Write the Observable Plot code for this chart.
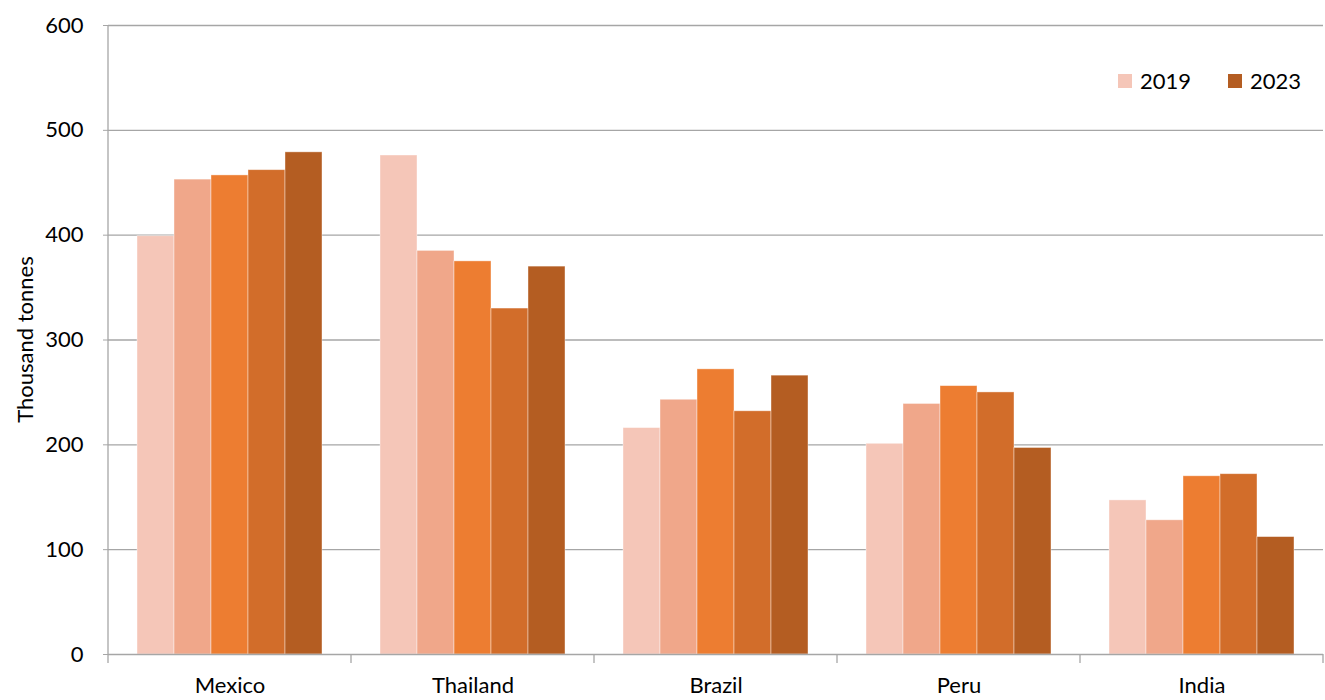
<!DOCTYPE html>
<html>
<head>
<meta charset="utf-8">
<script src="https://cdn.jsdelivr.net/npm/d3@7"></script>
<script src="https://cdn.jsdelivr.net/npm/@observablehq/plot@0.6"></script>
<style>
  html, body { margin: 0; padding: 0; background: #fff; }
  #wrap { position: relative; width: 1325px; height: 700px; font-family: Lato, "Open Sans", sans-serif; }
  .leg { position: absolute; display: flex; align-items: center; font-size: 22px; color: #000; }
  .sw { width: 14px; height: 14px; margin-right: 8px; }
</style>
</head>
<body>
<div id="wrap"></div>
<script>
const countries = ["Mexico", "Thailand", "Brazil", "Peru", "India"];
const years = ["2019", "2020", "2021", "2022", "2023"];
const v2019 = [399, 476, 216, 201, 147];
const v2020 = [453, 385, 243, 239, 128];
const v2021 = [457, 375, 272, 256, 170];
const v2022 = [462, 330, 232, 250, 172];
const v2023 = [479, 370, 266, 197, 112];
const colors = ["#F5C6B8", "#F0A78A", "#ED7D31", "#D26D2A", "#B45D22"];
const yTicks = [0, 100, 200, 300, 400, 500, 600];
const legendYears = ["2019", "2023"];
const yTitle = "Thousand tonnes";

const series = [v2019, v2020, v2021, v2022, v2023];
const data = [];
countries.forEach((c, i) => {
  years.forEach((y, j) => data.push({country: c, year: y, value: series[j][i]}));
});

const gridColor = "#A6A6A6";

const chart = Plot.plot({
  width: 1325,
  height: 700,
  marginLeft: 108,
  marginRight: 2,
  marginTop: 25,
  marginBottom: 46,
  style: {fontFamily: "Lato, 'Open Sans', sans-serif", background: "#fff", color: "#000"},
  fx: {domain: countries, padding: 0, label: null},
  x: {domain: years, paddingInner: 0, paddingOuter: 0.75, axis: null},
  y: {domain: [0, 600], label: null},
  color: {domain: years, range: colors},
  marks: [
    Plot.ruleY(yTicks.filter(d => d > 0), {y: d => d, stroke: gridColor, strokeWidth: 1.3}),
    Plot.barY(data, {fx: "country", x: "year", y: "value", fill: "year", stroke: "#fff", strokeWidth: 0.8, strokeOpacity: 0.5}),
    Plot.ruleY([0], {stroke: gridColor, strokeWidth: 1.5}),
    Plot.axisY({ticks: yTicks, tickSize: 5, tickPadding: 20, fontSize: 22, stroke: gridColor, label: null, tickFormat: d3.format("d")}),
    Plot.axisFx({anchor: "bottom", tickSize: 0, tickPadding: 23, fontSize: 22, label: null})
  ]
});

// Axis lines and category boundary ticks using the plot's own scales
const fx = chart.scale("fx");
const ys = chart.scale("y");
const svg = d3.select(chart);
const g = svg.append("g").attr("stroke", gridColor).attr("stroke-width", 1.3);
const y0 = ys.apply(0), yTop = ys.apply(600);
const bounds = countries.map(c => fx.apply(c));
bounds.push(fx.apply(countries[countries.length - 1]) + fx.bandwidth);
g.append("line").attr("x1", bounds[0]).attr("x2", bounds[0]).attr("y1", yTop).attr("y2", y0 + 9);
bounds.slice(1).forEach(b => {
  g.append("line").attr("x1", b).attr("x2", b).attr("y1", y0).attr("y2", y0 + 9);
});

// Y axis title
const yMid = ys.apply(d3.mean(ys.domain));
svg.append("text")
  .attr("transform", `translate(33,${yMid}) rotate(-90)`)
  .attr("text-anchor", "middle")
  .attr("font-size", 22)
  .attr("fill", "#000")
  .text(yTitle);

const wrap = document.getElementById("wrap");
wrap.appendChild(chart);

// Legend inside plot area
const legPos = [{left: 1118, top: 67}, {left: 1228, top: 67}];
legendYears.forEach((yr, k) => {
  const d = document.createElement("div");
  d.className = "leg";
  d.style.left = legPos[k].left + "px";
  d.style.top = legPos[k].top + "px";
  const sw = document.createElement("div");
  sw.className = "sw";
  sw.style.background = colors[years.indexOf(yr)];
  d.appendChild(sw);
  const t = document.createElement("span");
  t.textContent = yr;
  d.appendChild(t);
  wrap.appendChild(d);
});
</script>
</body>
</html>
